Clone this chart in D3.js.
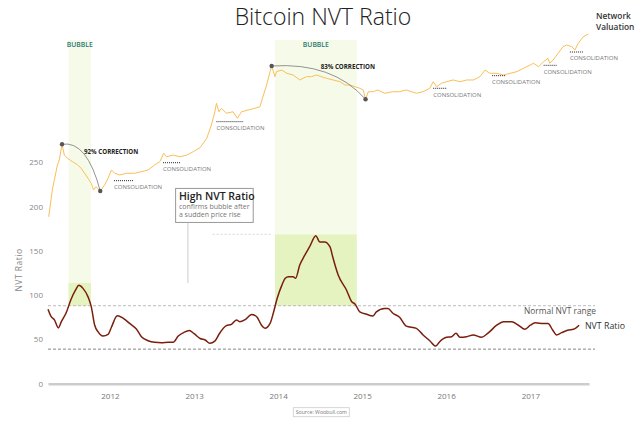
<!DOCTYPE html>
<html>
<head>
<meta charset="utf-8">
<script src="https://cdn.jsdelivr.net/npm/d3@7"></script>
<style>
  body { margin: 0; background: #fff; }
  text { font-family: "Open Sans", sans-serif; }
</style>
</head>
<body>
<div id="chart"></div>
<script>
// NVT ratio
var nvtDates = [
  "2011-04-07","2011-04-21","2011-05-05","2011-05-22","2011-06-04","2011-06-25","2011-07-15","2011-08-05","2011-08-19","2011-09-06","2011-09-28","2011-10-12","2011-10-27","2011-11-10","2011-12-02","2011-12-24",
  "2012-01-08","2012-02-02","2012-02-28","2012-03-27","2012-04-25","2012-05-17","2012-06-15","2012-07-14","2012-08-12","2012-09-11","2012-10-02","2012-10-24","2012-11-18","2012-12-11",
  "2013-01-01","2013-01-27","2013-02-18","2013-03-10","2013-04-01","2013-04-22","2013-05-21","2013-06-12","2013-07-04","2013-07-18","2013-08-09","2013-09-08","2013-09-30","2013-10-21","2013-11-05","2013-11-27","2013-12-11","2013-12-28",
  "2014-01-17","2014-02-01","2014-02-15","2014-03-07","2014-03-18","2014-04-05","2014-04-27","2014-05-18","2014-06-14","2014-07-01","2014-07-22","2014-08-14","2014-08-28","2014-09-19","2014-10-25","2014-11-17","2014-12-01","2014-12-22",
  "2015-01-21","2015-02-16","2015-03-04","2015-04-09","2015-04-23","2015-05-15","2015-06-13","2015-07-12","2015-08-25","2015-09-23","2015-10-22","2015-11-17","2015-12-04",
  "2016-01-03","2016-01-25","2016-02-13","2016-03-01","2016-03-30","2016-04-28","2016-06-03","2016-07-01","2016-08-08","2016-09-06","2016-10-12","2016-11-10","2016-12-09",
  "2017-01-01","2017-01-22","2017-02-28","2017-03-19","2017-04-08","2017-04-25","2017-05-17","2017-06-15","2017-07-07","2017-08-01"
];
var nvtValues = [
  84, 75.6, 72, 63, 70, 80, 94.5, 105.8, 111, 107.6, 98, 87, 66, 58.7, 53.8, 55.7,
  64, 76.7, 73.8, 68, 61.7, 53, 48.5, 46.7, 46.3, 46.7, 46.7, 53.8, 58, 60,
  56.4, 51, 49.3, 45.6, 48, 57, 65.5, 67, 72, 70, 72, 78, 75.6, 66, 62.5, 68, 79.5, 96.4,
  111, 119, 120.8, 120.8, 119, 134, 145, 154.6, 167, 160, 160, 154.6, 141.5, 122.7, 105.8, 92.5, 90, 81,
  78.3, 76.4, 81, 85, 85, 79.5, 75, 65, 62.5, 55, 48.5, 42.5, 47.4,
  52.4, 53, 56.9, 52.4, 53, 55, 52.4, 57, 66, 70, 70, 66, 61.4,
  66, 68.7, 68, 68, 60.6, 55, 57.6, 60.6, 61.4, 66
];

// Network valuation, billion USD (log scale in the picture)
var priceDates = [
  "2011-04-10","2011-04-27","2011-05-12","2011-05-18","2011-05-26","2011-06-07","2011-06-17","2011-07-01","2011-07-23","2011-08-14","2011-08-29","2011-09-13","2011-09-28","2011-10-12","2011-10-22","2011-11-01","2011-11-21","2011-12-09","2011-12-24",
  "2012-01-08","2012-01-22","2012-02-13","2012-03-12","2012-04-17","2012-05-17","2012-06-15","2012-07-14","2012-08-05","2012-08-22","2012-09-03","2012-10-02","2012-11-01","2012-11-30","2012-12-28",
  "2013-01-27","2013-02-25","2013-03-17","2013-04-01","2013-04-08","2013-04-19","2013-04-30","2013-05-21","2013-06-19","2013-07-08","2013-07-26","2013-08-24","2013-09-22","2013-10-14","2013-10-25","2013-11-12","2013-11-27","2013-12-04","2013-12-18","2013-12-25",
  "2014-01-17","2014-02-08","2014-03-07","2014-04-05","2014-05-04","2014-05-25","2014-06-17","2014-07-08","2014-07-30","2014-08-28","2014-09-27","2014-10-18","2014-11-09","2014-12-01","2014-12-22",
  "2015-01-06","2015-01-16","2015-01-28","2015-02-18","2015-03-10","2015-04-09","2015-05-15","2015-06-13","2015-07-12","2015-08-03","2015-08-25","2015-09-23","2015-10-22","2015-11-06","2015-11-21","2015-12-12",
  "2016-01-03","2016-02-01","2016-03-01","2016-03-30","2016-04-28","2016-05-27","2016-06-18","2016-07-09","2016-08-08","2016-09-06","2016-10-05","2016-11-04","2016-12-02",
  "2017-01-01","2017-01-15","2017-02-06","2017-02-28","2017-03-19","2017-03-26","2017-04-10","2017-05-02","2017-05-23","2017-06-08","2017-06-30","2017-07-14","2017-07-28","2017-08-19","2017-09-10"
];
var priceValues = [
  0.0043, 0.0198, 0.048, 0.069, 0.090, 0.209, 0.117, 0.0985, 0.082, 0.069, 0.0577, 0.0441, 0.0338, 0.0258, 0.018, 0.0215, 0.0171, 0.0236, 0.0338,
  0.0526, 0.0441, 0.0403, 0.0441, 0.0441, 0.048, 0.0526, 0.069, 0.082, 0.129, 0.107, 0.117, 0.107, 0.117, 0.140,
  0.174, 0.288, 0.586, 1.19, 1.87, 1.19, 1.43, 1.10, 1.19, 0.839, 1.19, 1.31, 1.43, 1.56, 2.45, 4.99, 10.2, 13.8, 7.78, 10.2,
  11.1, 9.33, 8.53, 6.52, 7.78, 7.78, 8.53, 7.78, 7.14, 6.52, 5.95, 4.99, 4.99, 4.56, 4.18,
  3.82, 2.32, 3.48, 3.48, 3.82, 3.20, 3.48, 3.48, 3.82, 3.48, 3.20, 3.48, 4.18, 5.95, 4.56, 5.47,
  5.95, 6.52, 5.95, 6.52, 6.52, 7.78, 11.1, 9.33, 9.33, 8.53, 9.33, 10.2, 12.2,
  14.6, 15.95, 13.3, 17.4, 20.8, 15.95, 19.0, 27.2, 38.8, 42.5, 38.8, 32.5, 46.5, 66.3, 76.6
];

var yearTicks = [2012, 2013, 2014, 2015, 2016, 2017];
var nvtTicks = [0, 50, 100, 150, 200, 250];
var normalRange = [39, 88];

var bubbleStarts = ["2011-07-05", "2013-12-18"];
var bubbleEnds = ["2011-10-11", "2014-12-09"];
var bubblePeaks = [113.6, 168.6];

var correctionLabels = ["92% CORRECTION", "83% CORRECTION"];
var correctionPeaks = [["2011-06-07", 0.209], ["2013-12-04", 13.8]];
var correctionTroughs = [["2011-11-20", 0.0171], ["2015-01-16", 2.32]];

var consolStarts = ["2012-01-19", "2012-08-19", "2013-04-08", "2015-11-06", "2016-07-19", "2017-02-28", "2017-06-22"];
var consolEnds = ["2012-04-14", "2012-11-01", "2013-08-02", "2016-01-03", "2016-09-16", "2017-04-25", "2017-08-19"];
var consolLevels = [0.0297, 0.0778, 0.70, 4.18, 8.21, 14.3, 29.2];

var parse = d3.timeParse("%Y-%m-%d");
var W = 640, H = 432;

var svg = d3.select("#chart").append("svg")
    .attr("width", W)
    .attr("height", H);

var x = d3.scaleTime()
    .domain([parse("2011-04-07"), parse("2017-09-13")])
    .range([48, 589]);
var yN = d3.scaleLinear().domain([0, 250]).range([383.7, 162.2]);
var yP = d3.scaleLog().domain([0.001, 100]).range([244, 29]);

var plotTop = 40;

// bubble shading
bubbleStarts.forEach(function (s, i) {
    var x0 = x(parse(s)), x1 = x(parse(bubbleEnds[i]));
    svg.append("rect")
        .attr("x", x0).attr("y", plotTop)
        .attr("width", x1 - x0).attr("height", yN(bubblePeaks[i]) - plotTop)
        .attr("fill", "#f6fbe9");
    svg.append("rect")
        .attr("x", x0).attr("y", yN(bubblePeaks[i]))
        .attr("width", x1 - x0).attr("height", yN(normalRange[1]) - yN(bubblePeaks[i]))
        .attr("fill", "#e4f3bf");
    svg.append("text")
        .attr("x", (x0 + x1) / 2).attr("y", 47)
        .attr("text-anchor", "middle")
        .attr("font-size", 6.8).attr("font-weight", 600)
        .attr("fill", "#2c7873")
        .text("BUBBLE");
});

// normal range lines
svg.append("line")
    .attr("x1", x.range()[0]).attr("x2", x.range()[1] + 6)
    .attr("y1", yN(normalRange[1])).attr("y2", yN(normalRange[1]))
    .attr("stroke", "#aaa").attr("stroke-width", 0.8).attr("stroke-dasharray", "3,2");
svg.append("line")
    .attr("x1", x.range()[0]).attr("x2", x.range()[1] + 6)
    .attr("y1", yN(normalRange[0])).attr("y2", yN(normalRange[0]))
    .attr("stroke", "#666").attr("stroke-width", 0.8).attr("stroke-dasharray", "3,2");
svg.append("text")
    .attr("x", x.range()[1] + 7).attr("y", yN(normalRange[1]) + 8)
    .attr("text-anchor", "end")
    .attr("font-size", 8.4).attr("fill", "#555")
    .text("Normal NVT range");

// dashed guide at second bubble peak
svg.append("line")
    .attr("x1", x(parse("2013-03-22"))).attr("x2", x(parse("2013-12-05")))
    .attr("y1", yN(bubblePeaks[1])).attr("y2", yN(bubblePeaks[1]))
    .attr("stroke", "#ccc").attr("stroke-width", 0.8).attr("stroke-dasharray", "2,2");

// axes
var xAxis = d3.axisBottom(x)
    .tickValues(yearTicks.map(function (y) { return new Date(y, 0, 1); }))
    .tickFormat(d3.timeFormat("%Y"))
    .tickSize(0).tickSizeOuter(0).tickPadding(10);
var gx = svg.append("g")
    .attr("transform", "translate(0," + yN(0) + ")")
    .call(xAxis);
gx.select(".domain").attr("stroke", "#ccc").attr("stroke-width", 2.5);
gx.selectAll("text").attr("font-family", "Open Sans").attr("font-size", 8).attr("fill", "#777");

var yAxis = d3.axisLeft(yN).tickValues(nvtTicks).tickSize(0).tickPadding(5);
var gy = svg.append("g")
    .attr("transform", "translate(" + x.range()[0] + ",0)")
    .call(yAxis);
gy.select(".domain").remove();
gy.selectAll("text").attr("font-family", "Open Sans").attr("font-size", 8).attr("fill", "#888");

svg.append("text")
    .attr("transform", "translate(22," + 270 + ") rotate(-90)")
    .attr("text-anchor", "middle")
    .attr("font-size", 8.5).attr("fill", "#888")
    .attr("letter-spacing", 0.5)
    .text("NVT  Ratio");

// network valuation line
var priceData = priceDates.map(function (d, i) { return { date: parse(d), value: priceValues[i] }; });
var priceLine = d3.line()
    .x(function (d) { return x(d.date); })
    .y(function (d) { return yP(d.value); });
svg.append("path")
    .datum(priceData)
    .attr("d", priceLine)
    .attr("fill", "none")
    .attr("stroke", "#f9bf57")
    .attr("stroke-width", 1);

// nvt line
var nvtData = nvtDates.map(function (d, i) { return { date: parse(d), value: nvtValues[i] }; });
var nvtLine = d3.line()
    .curve(d3.curveMonotoneX)
    .x(function (d) { return x(d.date); })
    .y(function (d) { return yN(d.value); });
svg.append("path")
    .datum(nvtData)
    .attr("d", nvtLine)
    .attr("fill", "none")
    .attr("stroke", "#7a1e0d")
    .attr("stroke-width", 1.5);

// corrections
var labelOffsets = [[22, 10], [49, 3]];
correctionLabels.forEach(function (lab, i) {
    var p0 = [x(parse(correctionPeaks[i][0])), yP(correctionPeaks[i][1])];
    var p2 = [x(parse(correctionTroughs[i][0])), yP(correctionTroughs[i][1])];
    var cx = p0[0] + 0.65 * (p2[0] - p0[0]), cy = p0[1] - 4;
    svg.append("path")
        .attr("d", "M" + p0[0] + "," + p0[1] + " Q" + cx + "," + cy + " " + p2[0] + "," + p2[1])
        .attr("fill", "none").attr("stroke", "#777").attr("stroke-width", 0.8);
    [p0, p2].forEach(function (p) {
        svg.append("circle").attr("cx", p[0]).attr("cy", p[1]).attr("r", 2.2).attr("fill", "#555");
    });
    svg.append("text")
        .attr("x", p0[0] + labelOffsets[i][0]).attr("y", p0[1] + labelOffsets[i][1])
        .attr("font-size", 6.2).attr("font-weight", 700).attr("fill", "#222")
        .text(lab);
});

// consolidation marks
consolStarts.forEach(function (s, i) {
    var x0 = x(parse(s)), x1 = x(parse(consolEnds[i])), yy = yP(consolLevels[i]);
    svg.append("line")
        .attr("x1", x0).attr("x2", x1).attr("y1", yy).attr("y2", yy)
        .attr("stroke", "#222").attr("stroke-width", 1).attr("stroke-dasharray", "1,1");
    svg.append("text")
        .attr("x", x0).attr("y", yy + 8.3)
        .attr("font-size", 6).attr("fill", "#777")
        .text("CONSOLIDATION");
});

// High NVT Ratio note
var noteX = x(parse("2012-12-05"));
var noteBottom = yN(182);
svg.append("line")
    .attr("x1", noteX).attr("x2", noteX)
    .attr("y1", noteBottom).attr("y2", yN(bubblePeaks[0]))
    .attr("stroke", "#ccc").attr("stroke-width", 1);
svg.append("rect")
    .attr("x", noteX - 12.3).attr("y", noteBottom - 34)
    .attr("width", 77.6).attr("height", 34)
    .attr("fill", "#fff").attr("stroke", "#999").attr("stroke-width", 1);
svg.append("text")
    .attr("x", noteX - 9).attr("y", noteBottom - 22)
    .attr("font-size", 10.5).attr("font-weight", 600).attr("fill", "#222")
    .text("High NVT Ratio");
svg.append("text")
    .attr("x", noteX - 9).attr("y", noteBottom - 13.5)
    .attr("font-size", 7).attr("fill", "#777")
    .text("confirms bubble after");
svg.append("text")
    .attr("x", noteX - 9).attr("y", noteBottom - 5.5)
    .attr("font-size", 7).attr("fill", "#777")
    .text("a sudden price rise");

// series labels
svg.append("text")
    .attr("x", 585).attr("y", yN(66) + 4)
    .attr("font-size", 8.8).attr("fill", "#333")
    .text("NVT Ratio");
svg.append("text")
    .attr("x", 596).attr("y", 18.5)
    .attr("font-size", 8.3).attr("font-weight", 600).attr("fill", "#333")
    .text("Network");
svg.append("text")
    .attr("x", 596).attr("y", 29.5)
    .attr("font-size", 8.3).attr("font-weight", 600).attr("fill", "#333")
    .text("Valuation");

// title
svg.append("text")
    .attr("x", 323).attr("y", 24.5)
    .attr("text-anchor", "middle")
    .attr("font-family", "Lato")
    .attr("font-size", 23).attr("font-weight", 300).attr("fill", "#222")
    .text("Bitcoin NVT Ratio");

// source box
svg.append("rect")
    .attr("x", 293.3).attr("y", 407.7).attr("width", 56).attr("height", 9)
    .attr("fill", "#fff").attr("stroke", "#ccc").attr("stroke-width", 0.8);
svg.append("text")
    .attr("x", 321.3).attr("y", 414.3)
    .attr("text-anchor", "middle")
    .attr("font-size", 5.2).attr("fill", "#777")
    .text("Source: Woobull.com");
</script>
</body>
</html>
